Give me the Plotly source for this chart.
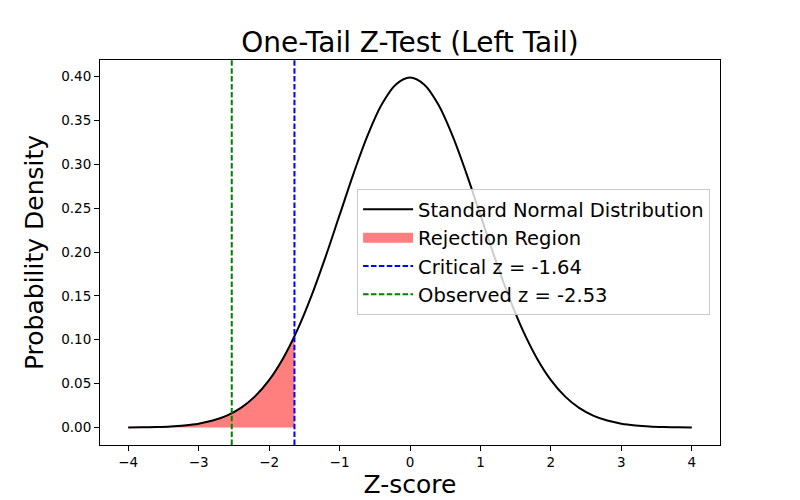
import plotly.graph_objects as go

# Data
z_values = [-4.0, -3.8, -3.6, -3.4, -3.2, -3.0, -2.8, -2.6, -2.4, -2.2, -2.0,
            -1.8, -1.6, -1.4, -1.2, -1.0, -0.8, -0.6, -0.4, -0.2, 0.0,
            0.2, 0.4, 0.6, 0.8, 1.0, 1.2, 1.4, 1.6, 1.8, 2.0,
            2.2, 2.4, 2.6, 2.8, 3.0, 3.2, 3.4, 3.6, 3.8, 4.0]
density = [0.0001, 0.0003, 0.0006, 0.0012, 0.0024, 0.0044, 0.0079, 0.0136, 0.0224, 0.0355, 0.0540,
           0.0790, 0.1109, 0.1497, 0.1942, 0.2420, 0.2897, 0.3332, 0.3683, 0.3910, 0.3989,
           0.3910, 0.3683, 0.3332, 0.2897, 0.2420, 0.1942, 0.1497, 0.1109, 0.0790, 0.0540,
           0.0355, 0.0224, 0.0136, 0.0079, 0.0044, 0.0024, 0.0012, 0.0006, 0.0003, 0.0001]
reject_z = [-4.0, -3.8, -3.6, -3.4, -3.2, -3.0, -2.8, -2.6, -2.4, -2.2, -2.0, -1.8, -1.64]
reject_density = [0.0001, 0.0003, 0.0006, 0.0012, 0.0024, 0.0044, 0.0079, 0.0136, 0.0224,
                  0.0355, 0.0540, 0.0790, 0.1040]
critical_z = -1.64
observed_z = -2.53
x_ticks = [-4, -3, -2, -1, 0, 1, 2, 3, 4]
y_ticks = [0.00, 0.05, 0.10, 0.15, 0.20, 0.25, 0.30, 0.35, 0.40]

xmin, xmax = min(z_values), max(z_values)
ymin, ymax = 0.0, max(density)
xpad = 0.05 * (xmax - xmin)
ypad = 0.05 * (ymax - ymin)
x_range = [xmin - xpad, xmax + xpad]
y_range = [ymin - ypad, ymax + ypad]

def tick_text(v):
    s = f"{abs(v):g}"
    return ("\u2212" + s) if v < 0 else s

fig = go.Figure()
fig.add_trace(go.Scatter(
    x=reject_z, y=reject_density, mode="lines", fill="tozeroy",
    fillcolor="rgba(255,0,0,0.5)", line=dict(color="rgba(255,0,0,0.5)", width=1),
    name="Rejection Region", showlegend=False))
fig.add_trace(go.Scatter(
    x=z_values, y=density, mode="lines", line=dict(color="black", width=2, shape="spline"),
    name="Standard Normal Distribution", legendrank=1, legendgroup="a"))
# legend patch for the rejection region
fig.add_trace(go.Scatter(
    x=[None], y=[None], mode="lines", line=dict(color="rgba(255,0,0,0.5)", width=14),
    name="Rejection Region", legendrank=2, legendgroup="b"))
fig.add_trace(go.Scatter(
    x=[critical_z, critical_z], y=y_range, mode="lines",
    line=dict(color="blue", width=2, dash="5.5px,2.4px"),
    name=f"Critical z = {critical_z:.2f}", legendrank=3, legendgroup="c"))
fig.add_trace(go.Scatter(
    x=[observed_z, observed_z], y=y_range, mode="lines",
    line=dict(color="green", width=2, dash="5.5px,2.4px"),
    name=f"Observed z = {observed_z:.2f}", legendrank=4, legendgroup="d"))

font_family = "DejaVu Sans"
fig.update_layout(
    width=792, height=492,
    margin=dict(l=92, r=80, t=52, b=55, autoexpand=False),
    paper_bgcolor="white", plot_bgcolor="white",
    font=dict(family=font_family, color="black", size=14),
    title=dict(text="One-Tail Z-Test (Left Tail)", x=0.5, xref="paper", xanchor="center",
               y=1 - 34 / 492, yref="container", yanchor="middle",
               font=dict(size=28, family=font_family, color="black")),
    showlegend=True,
    legend=dict(x=0.984, y=0.501, xanchor="right", yanchor="middle",
                bgcolor="rgba(255,255,255,0.8)", bordercolor="rgb(204,204,204)", borderwidth=1,
                font=dict(size=19.5, family=font_family, color="black"),
                itemwidth=50, tracegroupgap=4, traceorder="normal"),
    xaxis=dict(range=x_range, tickvals=x_ticks, ticktext=[tick_text(v) for v in x_ticks],
               showgrid=False, zeroline=False, showline=True, linecolor="black", linewidth=1,
               mirror=True, ticks="outside", ticklen=5, tickcolor="black", automargin=False,
               tickfont=dict(size=13.5, family=font_family),
               title=dict(text="Z-score", font=dict(size=25, family=font_family), standoff=6)),
    yaxis=dict(range=y_range, tickvals=y_ticks, ticktext=[f"{v:.2f}" for v in y_ticks],
               showgrid=False, zeroline=False, showline=True, linecolor="black", linewidth=1,
               mirror=True, ticks="outside", ticklen=5, tickcolor="black", automargin=False,
               tickfont=dict(size=13.5, family=font_family),
               title=dict(text="Probability Density", font=dict(size=25, family=font_family), standoff=10)),
)

fig.write_html("out.html")
